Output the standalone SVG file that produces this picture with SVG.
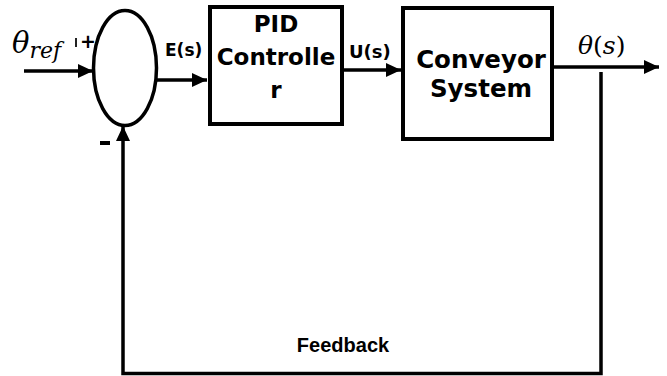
<svg xmlns="http://www.w3.org/2000/svg" width="667" height="376" viewBox="0 0 667 376">
<defs>
<marker id="arr" markerUnits="userSpaceOnUse" markerWidth="16" markerHeight="16" viewBox="0 0 16 16" refX="15" refY="8" orient="auto">
<path d="M0,1 L15,8 L0,15 z" fill="#000"/>
</marker>
<style>
.ln{stroke:#000;stroke-width:3.5;fill:none}
.bx{stroke:#000;stroke-width:4;fill:#fff}
.bt{font-family:"DejaVu Sans",Verdana,sans-serif;font-weight:bold;fill:#000;text-anchor:middle}
.mt{font-family:"DejaVu Serif","Liberation Serif",serif;font-style:italic;fill:#000}
.lb{font-family:"DejaVu Sans",sans-serif;font-weight:bold;fill:#000}
</style>
</defs>
<g id="connectors">
<line class="ln" x1="24" y1="71" x2="93" y2="71" marker-end="url(#arr)"/>
<line class="ln" x1="157" y1="80" x2="207" y2="80" marker-end="url(#arr)"/>
<line class="ln" x1="343" y1="70" x2="401" y2="70" marker-end="url(#arr)"/>
<line class="ln" x1="553" y1="67" x2="659" y2="67" marker-end="url(#arr)"/>
<polyline class="ln" points="601,72 601,373.5 123,373.5 123,126" marker-end="url(#arr)"/>
</g>
<g id="sum">
<ellipse cx="125" cy="68" rx="31.5" ry="57.5" class="ln"/>
<text x="88" y="48" class="lb" font-size="19" text-anchor="middle">+</text>
<rect x="100" y="141" width="10" height="4" fill="#000"/>
</g>
<g id="pid">
<rect x="210" y="7" width="132" height="117" class="bx"/>
<text class="bt" font-size="23" x="276" y="32">PID</text>
<text class="bt" font-size="23" x="276" y="65">Controlle</text>
<text class="bt" font-size="23" x="276" y="98">r</text>
</g>
<g id="plant">
<rect x="403" y="8" width="149" height="131" class="bx"/>
<text class="bt" font-size="24.5" x="481" y="68">Conveyor</text>
<text class="bt" font-size="24.5" x="481" y="97">System</text>
</g>
<g id="labels">
<text class="mt" font-size="29" x="12" y="53">θ<tspan font-size="22" dy="5">ref</tspan></text>
<rect x="75" y="38" width="2" height="9" fill="#222"/>
<text class="lb" font-size="17" x="165" y="56">E(s)</text>
<text class="lb" font-size="18" x="349" y="58">U(s)</text>
<text class="mt" font-size="25" x="578" y="54">θ<tspan font-style="normal">(</tspan>s<tspan font-style="normal">)</tspan></text>
<text font-family="Liberation Sans, Arial, sans-serif" font-weight="bold" font-size="20" x="343" y="352" text-anchor="middle">Feedback</text>
</g>
</svg>
